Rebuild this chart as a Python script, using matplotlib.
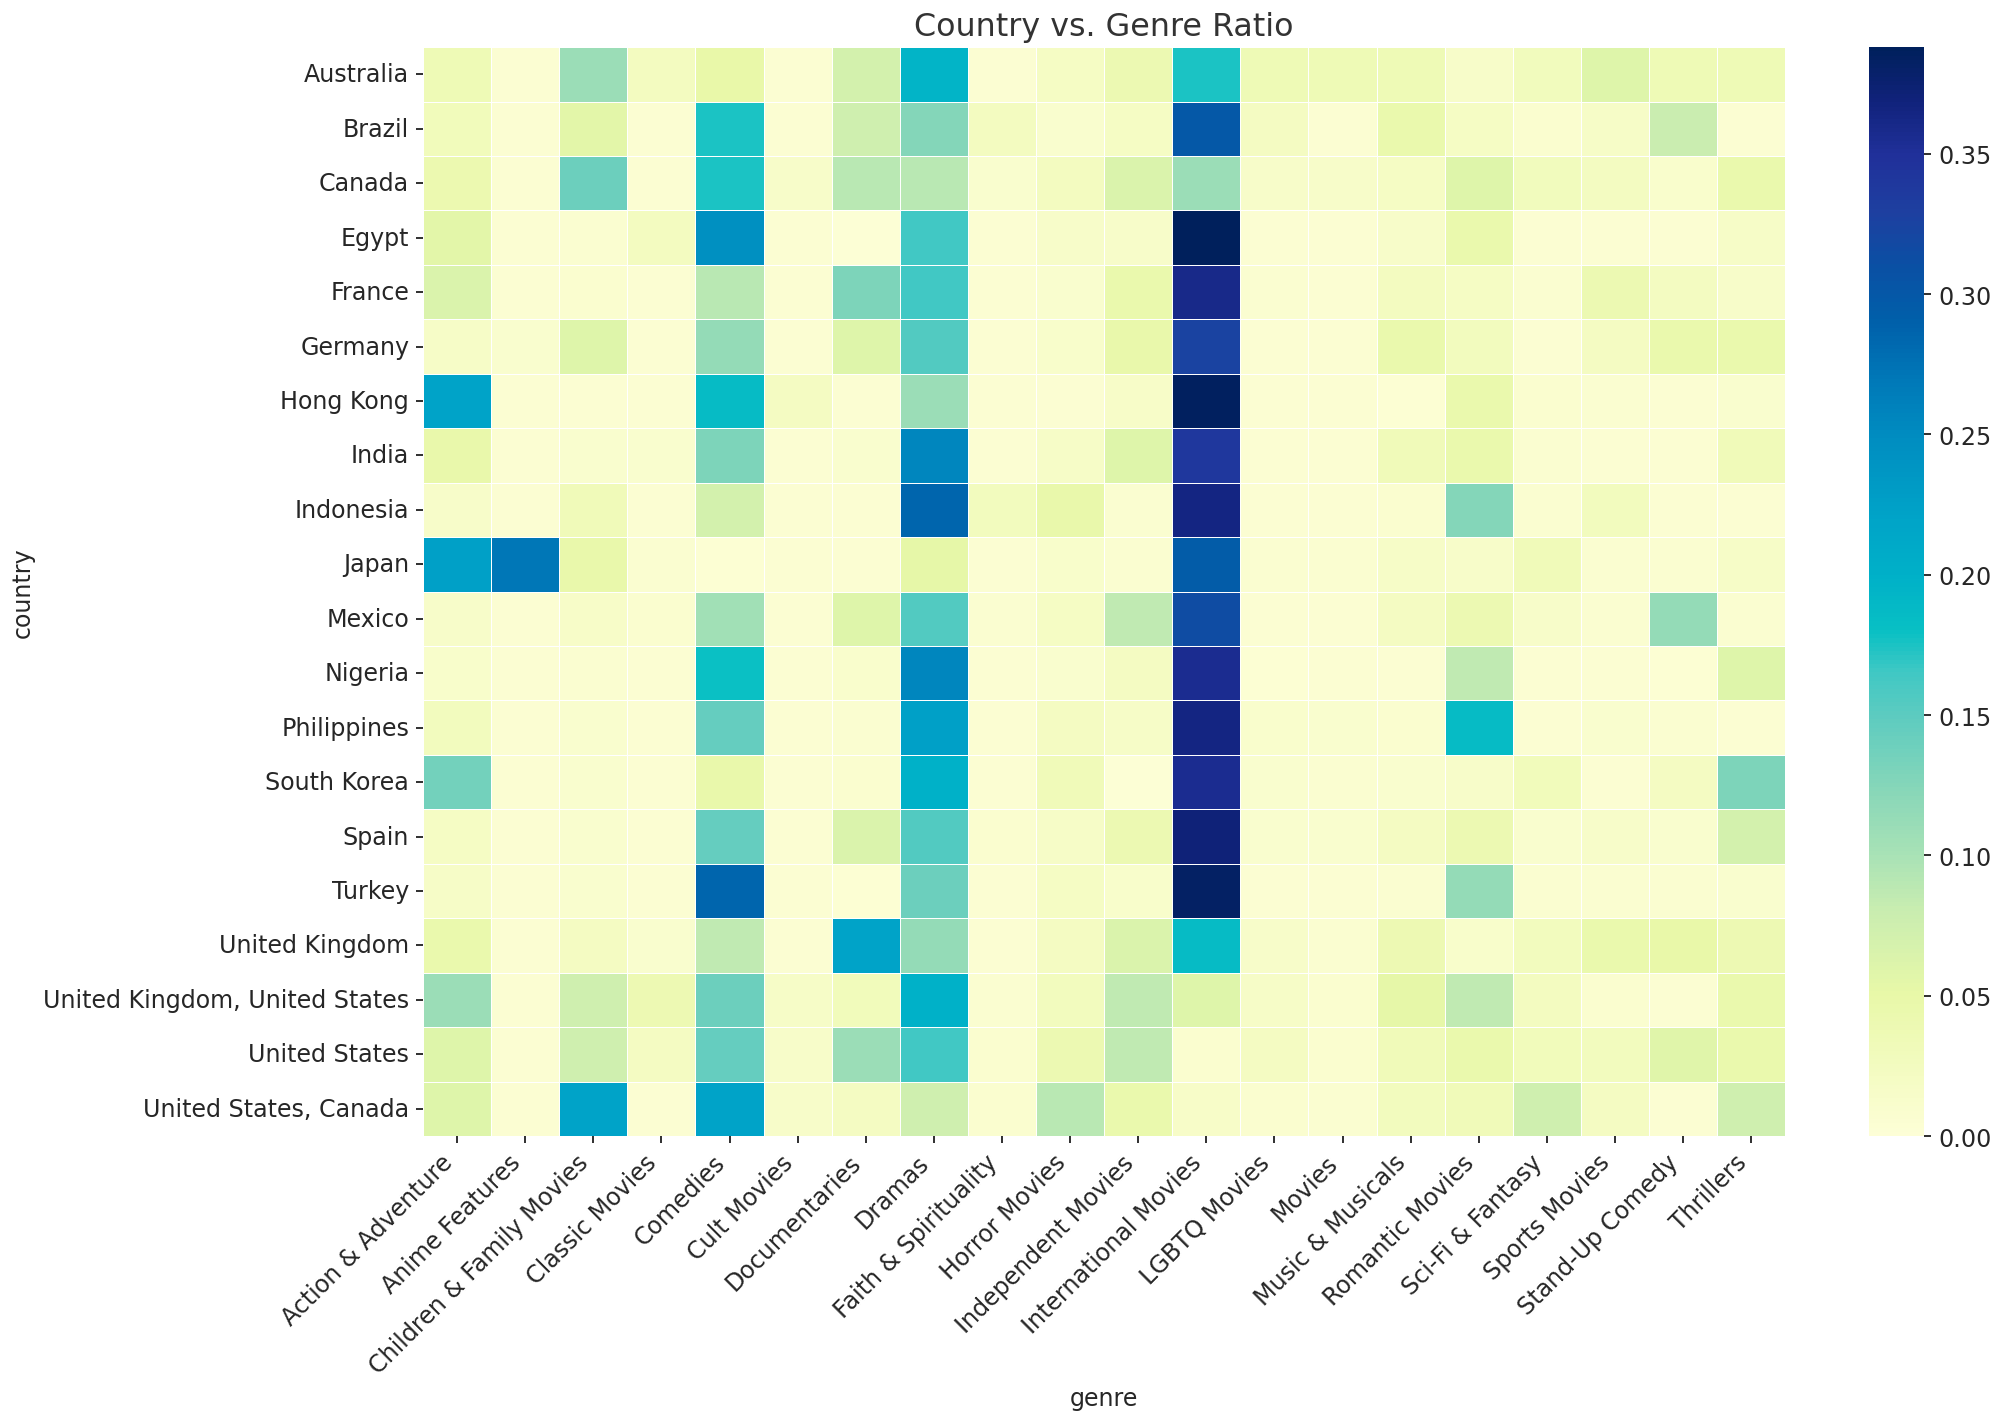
import matplotlib
matplotlib.use('Agg')
import matplotlib.pyplot as plt
from matplotlib.colors import LinearSegmentedColormap
import numpy as np
import pandas as pd
import seaborn as sns

countries = ["Australia", "Brazil", "Canada", "Egypt", "France", "Germany", "Hong Kong",
             "India", "Indonesia", "Japan", "Mexico", "Nigeria", "Philippines",
             "South Korea", "Spain", "Turkey", "United Kingdom",
             "United Kingdom, United States", "United States", "United States, Canada"]

genres = ["Action & Adventure", "Anime Features", "Children & Family Movies", "Classic Movies",
          "Comedies", "Cult Movies", "Documentaries", "Dramas", "Faith & Spirituality",
          "Horror Movies", "Independent Movies", "International Movies", "LGBTQ Movies",
          "Movies", "Music & Musicals", "Romantic Movies", "Sci-Fi & Fantasy",
          "Sports Movies", "Stand-Up Comedy", "Thrillers"]

# one row per country, values in genre order
australia = [0.035, 0.005, 0.110, 0.025, 0.050, 0.005, 0.070, 0.195, 0.005, 0.020,
             0.040, 0.175, 0.035, 0.035, 0.035, 0.015, 0.028, 0.060, 0.035, 0.035]
brazil = [0.030, 0.005, 0.055, 0.005, 0.175, 0.005, 0.075, 0.125, 0.025, 0.010,
          0.020, 0.300, 0.022, 0.005, 0.045, 0.020, 0.008, 0.018, 0.080, 0.005]
canada = [0.042, 0.005, 0.140, 0.005, 0.175, 0.015, 0.090, 0.090, 0.010, 0.025,
          0.065, 0.110, 0.015, 0.015, 0.020, 0.060, 0.028, 0.024, 0.012, 0.045]
egypt = [0.055, 0.005, 0.007, 0.025, 0.245, 0.005, 0.003, 0.165, 0.005, 0.015,
         0.015, 0.388, 0.005, 0.005, 0.015, 0.045, 0.005, 0.005, 0.005, 0.018]
france = [0.065, 0.005, 0.008, 0.006, 0.090, 0.005, 0.130, 0.165, 0.005, 0.010,
          0.045, 0.360, 0.007, 0.005, 0.025, 0.020, 0.007, 0.040, 0.024, 0.014]
germany = [0.018, 0.010, 0.060, 0.006, 0.115, 0.005, 0.060, 0.155, 0.005, 0.013,
           0.048, 0.325, 0.006, 0.005, 0.045, 0.027, 0.005, 0.022, 0.045, 0.045]
hong_kong = [0.220, 0.005, 0.005, 0.005, 0.185, 0.022, 0.005, 0.110, 0.005, 0.005,
             0.016, 0.385, 0.005, 0.005, 0.004, 0.045, 0.008, 0.007, 0.005, 0.010]
india = [0.048, 0.005, 0.010, 0.010, 0.130, 0.005, 0.010, 0.255, 0.005, 0.018,
         0.060, 0.340, 0.005, 0.005, 0.033, 0.045, 0.007, 0.006, 0.006, 0.032]
indonesia = [0.014, 0.006, 0.033, 0.006, 0.070, 0.006, 0.005, 0.285, 0.027, 0.048,
             0.007, 0.365, 0.005, 0.005, 0.008, 0.125, 0.007, 0.027, 0.006, 0.006]
japan = [0.225, 0.270, 0.048, 0.007, 0.004, 0.006, 0.006, 0.052, 0.006, 0.013,
         0.007, 0.295, 0.007, 0.007, 0.017, 0.015, 0.033, 0.007, 0.007, 0.018]
mexico = [0.014, 0.006, 0.016, 0.008, 0.105, 0.006, 0.060, 0.155, 0.007, 0.020,
          0.085, 0.315, 0.005, 0.005, 0.022, 0.040, 0.014, 0.007, 0.115, 0.007]
nigeria = [0.013, 0.005, 0.007, 0.005, 0.180, 0.005, 0.012, 0.255, 0.006, 0.010,
           0.022, 0.355, 0.004, 0.005, 0.006, 0.085, 0.006, 0.005, 0.004, 0.060]
philippines = [0.027, 0.005, 0.010, 0.006, 0.145, 0.005, 0.007, 0.225, 0.006, 0.022,
               0.018, 0.365, 0.012, 0.010, 0.008, 0.185, 0.006, 0.010, 0.007, 0.005]
south_korea = [0.135, 0.006, 0.010, 0.006, 0.048, 0.005, 0.008, 0.200, 0.005, 0.033,
               0.003, 0.355, 0.010, 0.007, 0.010, 0.015, 0.030, 0.006, 0.022, 0.130]
spain = [0.020, 0.006, 0.010, 0.006, 0.145, 0.005, 0.065, 0.155, 0.008, 0.018,
         0.040, 0.370, 0.010, 0.010, 0.022, 0.040, 0.010, 0.014, 0.010, 0.070]
turkey = [0.018, 0.006, 0.010, 0.006, 0.285, 0.005, 0.004, 0.140, 0.006, 0.020,
          0.013, 0.382, 0.006, 0.006, 0.007, 0.115, 0.007, 0.007, 0.007, 0.010]
united_kingdom = [0.045, 0.006, 0.022, 0.010, 0.085, 0.006, 0.220, 0.115, 0.006, 0.022,
                  0.065, 0.185, 0.014, 0.007, 0.038, 0.013, 0.027, 0.045, 0.050, 0.038]
uk_us = [0.110, 0.005, 0.075, 0.038, 0.140, 0.018, 0.030, 0.200, 0.007, 0.027,
         0.085, 0.060, 0.018, 0.008, 0.052, 0.085, 0.025, 0.008, 0.006, 0.045]
united_states = [0.060, 0.005, 0.075, 0.022, 0.145, 0.014, 0.110, 0.165, 0.008, 0.040,
                 0.085, 0.008, 0.022, 0.008, 0.032, 0.045, 0.030, 0.027, 0.058, 0.045]
us_canada = [0.060, 0.005, 0.220, 0.006, 0.220, 0.014, 0.022, 0.075, 0.008, 0.090,
             0.045, 0.016, 0.008, 0.007, 0.027, 0.032, 0.075, 0.022, 0.006, 0.075]

rows = [australia, brazil, canada, egypt, france, germany, hong_kong, india, indonesia,
        japan, mexico, nigeria, philippines, south_korea, spain, turkey, united_kingdom,
        uk_us, united_states, us_canada]

ratio = pd.DataFrame(np.array(rows), index=pd.Index(countries, name="country"),
                     columns=pd.Index(genres, name="genre"))

vmax = 0.388
# colour stops sampled from the reference colour bar (value, colour)
stops = [(0.000, "#fdfed6"), (0.050, "#e8f8a8"), (0.080, "#c9edb0"), (0.100, "#a8e2b6"),
         (0.120, "#8cd8b8"), (0.150, "#5ccbc0"), (0.165, "#40c8c4"), (0.180, "#08c0c4"),
         (0.200, "#00b0c8"), (0.220, "#00a4c8"), (0.250, "#008cc0"), (0.270, "#0078b8"),
         (0.290, "#0060aa"), (0.310, "#0a50a4"), (0.330, "#1e3fa0"), (0.350, "#20309a"),
         (0.370, "#10227a"), (0.388, "#00205c")]
cmap = LinearSegmentedColormap.from_list("ref_ylgnbu", [(v / vmax, c) for v, c in stops])

fig = plt.figure(figsize=(14, 1422 / 142.8), dpi=142.8)
ax = fig.add_axes([0.2116, 0.2004, 0.6814, 0.7658])
cax = fig.add_axes([0.935, 0.2004, 0.0275, 0.7658])

sns.heatmap(ratio, cmap=cmap, vmin=0, vmax=vmax, linewidths=0.5, linecolor="white",
            ax=ax, cbar_ax=cax)

ax.set_title("Country vs. Genre Ratio", fontsize=16, color="#333333")
ax.set_xlabel("genre", fontsize=12, color="#262626")
ax.set_ylabel("country", fontsize=12, color="#262626")
ax.set_xticklabels(ax.get_xticklabels(), rotation=45, ha="right", fontsize=12, color="#262626")
ax.set_yticklabels(ax.get_yticklabels(), rotation=0, fontsize=12, color="#262626")
cax.tick_params(labelsize=12, labelcolor="#262626")

fig.savefig("out.png", dpi=142.8)
